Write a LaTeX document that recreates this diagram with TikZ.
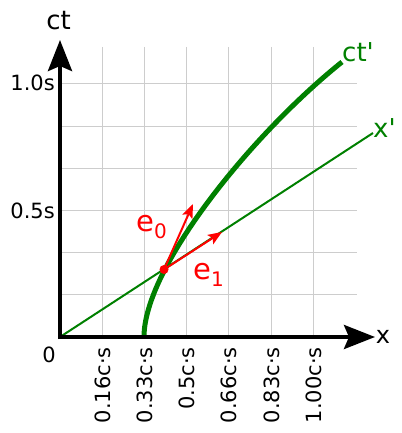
\documentclass[tikz,border=0pt]{standalone}
\usepackage{fontspec}
\setmainfont{DejaVu Sans}[Ligatures=TeXOff]
\usetikzlibrary{arrows.meta}
\definecolor{grn}{RGB}{0,128,0}
\definecolor{gridgray}{RGB}{205,205,205}
\begin{document}
\begin{tikzpicture}[x=1pt,y=-1pt,
  gridline/.style={draw=gridgray,line width=1.2pt},
  axis/.style={draw=black,line width=4pt,-{Stealth[length=31pt,width=24pt,inset=5pt]}},
  vec/.style={draw=red,line width=2pt,-{Stealth[length=14pt,width=11pt,inset=3pt]}},
  lbl/.style={font=\fontsize{21}{25}\selectfont,inner sep=0pt},
  big/.style={font=\fontsize{26}{30}\selectfont,inner sep=0pt},
  ticklbl/.style={lbl,rotate=90,anchor=east}]
\useasboundingbox (0,0) rectangle (401,433);
% grid
\foreach \gx in {102.5,144.5,186.5,228.5,271.5,313.5}{
  \draw[gridline] (\gx,47) -- (\gx,337);
}
\foreach \gy in {294.5,252.5,210.5,168.5,126.5,83.5}{
  \draw[gridline] (60,\gy) -- (357,\gy);
}
% coordinates
\coordinate (O) at (60,337);
\coordinate (xend) at (375,337);
\coordinate (tend) at (60,40);
\coordinate (xp) at (373,133);
\coordinate (P) at (164,269.5);
\coordinate (e0tip) at (193,204);
\coordinate (e1tip) at (222,232);
\coordinate (wlstart) at (144,337);
\coordinate (wlend) at (342,62);
% x' line
\draw[grn,line width=2pt] (O) -- (xp);
% ct' worldline
\draw[grn,line width=5pt] (wlstart) .. controls (144,267) and (252,134) .. (wlend);
% axes
\draw[axis] (58,337) -- (xend);
\draw[axis] (60,339) -- (tend);
% basis vectors
\draw[vec] (P) -- (e0tip);
\draw[vec] (P) -- (e1tip);
\fill[red] (P) circle (4.5);
% labels
\node[big,anchor=base] (ctl) at (58.5,30) {ct};
\node[font=\fontsize{24}{28}\selectfont,inner sep=0pt] (xl) at (383,337) {x};
\node[big,anchor=base west,text=grn] (ctpl) at (342,62) {ct'};
\node[big,anchor=base west,text=grn] (xpl) at (373,137) {x'};
\node[lbl,anchor=base east] (t1) at (55,91) {1.0s};
\node[lbl,anchor=base east] (t05) at (55,218.5) {0.5s};
\node[lbl,anchor=base] (zero) at (49,362) {0};
\node[ticklbl] (x1) at (102.5,347) {0.16c·s};
\node[ticklbl] (x2) at (144.5,347) {0.33c·s};
\node[ticklbl] (x3) at (186.5,347) {0.5c·s};
\node[ticklbl] (x4) at (228.5,347) {0.66c·s};
\node[ticklbl] (x5) at (271.5,347) {0.83c·s};
\node[ticklbl] (x6) at (313.5,347) {1.00c·s};
\node[anchor=base west,inner sep=0pt,text=red] (e0l) at (136,231)
  {{\fontsize{29}{32}\selectfont e}\raisebox{-7pt}{\fontsize{20}{22}\selectfont 0}};
\node[anchor=base west,inner sep=0pt,text=red] (e1l) at (193,279)
  {{\fontsize{29}{32}\selectfont e}\raisebox{-7pt}{\fontsize{20}{22}\selectfont 1}};
\end{tikzpicture}
\end{document}
